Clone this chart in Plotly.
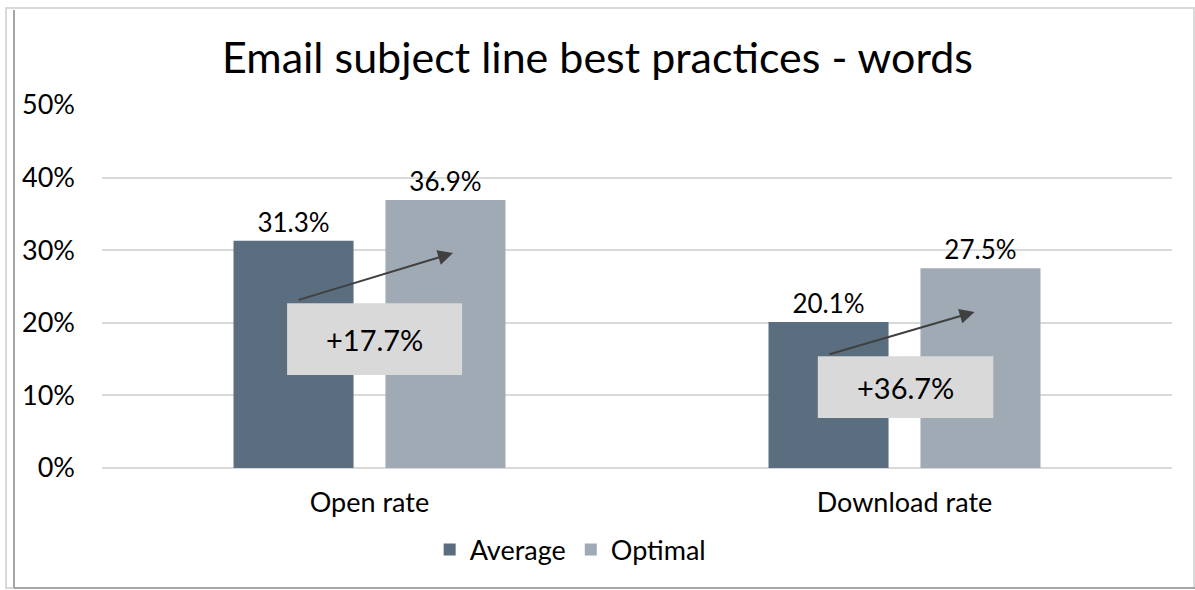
import plotly.graph_objects as go

# ── Data ──────────────────────────────────────────────────────────────
CATEGORIES = ["Open rate", "Download rate"]
AVERAGE = [0.313, 0.201]
OPTIMAL = [0.369, 0.275]
UPLIFT = ["+17.7%", "+36.7%"]

# ── Style ─────────────────────────────────────────────────────────────
AVG_COLOR = "#5a6e80"
OPT_COLOR = "#a0aab4"
BOX_COLOR = "#d9d9d9"
ARROW_COLOR = "#404040"
GRID = "#d9d9d9"
FONT = "Lato, sans-serif"
W, H = 1195, 590
L, R, T, B = 102, 23, 105, 122

fig = go.Figure()
for name, vals, color in [("Average", AVERAGE, AVG_COLOR), ("Optimal", OPTIMAL, OPT_COLOR)]:
    fig.add_trace(go.Bar(
        x=CATEGORIES, y=vals, name=name,
        marker=dict(color=color, line=dict(width=0)),
        text=[f"{v * 100:.1f}%" for v in vals],
        textposition="outside",
        textfont=dict(size=26, color="#000000", family=FONT),
        cliponaxis=False,
    ))

# uplift boxes + arrows (positions relative to category index)
boxes = [(-0.154, 0.173, 0.128, 0.227), (0.838, 1.166, 0.069, 0.154)]
arrows = [((-0.135, 0.231), (0.156, 0.296)), ((0.857, 0.156), (1.131, 0.215))]
for (x0, x1, y0, y1), label in zip(boxes, UPLIFT):
    fig.add_shape(type="rect", xref="x", yref="y", x0=x0, x1=x1, y0=y0, y1=y1,
                  fillcolor=BOX_COLOR, line=dict(width=0))
    fig.add_annotation(x=(x0 + x1) / 2, y=(y0 + y1) / 2, xref="x", yref="y",
                       text=label, showarrow=False,
                       font=dict(size=29, color="#000000", family=FONT))
for (tx, ty), (hx, hy) in arrows:
    fig.add_annotation(x=hx, y=hy, ax=tx, ay=ty, xref="x", yref="y",
                       axref="x", ayref="y", text="", showarrow=True,
                       arrowhead=2, arrowsize=1.5, arrowwidth=2,
                       arrowcolor=ARROW_COLOR)

# chart frame
pw, ph = W - L - R, H - T - B
def px(x):
    return (x - L) / pw
def py(y):
    return (H - B - y) / ph
fig.add_shape(type="rect", xref="paper", yref="paper",
              x0=px(6), x1=px(1194), y0=py(588), y1=py(8),
              line=dict(color="#d9d9d9", width=2), layer="below")
fig.add_shape(type="line", xref="paper", yref="paper",
              x0=px(14), x1=px(14), y0=py(588), y1=py(10),
              line=dict(color="#a6a6a6", width=2))
fig.add_shape(type="line", xref="paper", yref="paper",
              x0=px(14), x1=px(1195), y0=py(588), y1=py(588),
              line=dict(color="#a6a6a6", width=2))

fig.update_layout(
    width=W, height=H,
    paper_bgcolor="white", plot_bgcolor="white",
    font=dict(family=FONT, color="#000000", size=27),
    title=dict(text="Email subject line best practices - words",
               x=0.5, xanchor="center", y=1 - 58 / H, yanchor="middle",
               font=dict(size=43, family=FONT, color="#000000")),
    margin=dict(l=L, r=R, t=T, b=B, autoexpand=False),
    barmode="group", bargap=0.432, bargroupgap=0.21,
    xaxis=dict(showgrid=False, showline=False, ticks="",
               tickfont=dict(size=27), range=[-0.5, 1.5], automargin=False,
               ticklabelstandoff=16),
    yaxis=dict(range=[0, 0.5], dtick=0.1, tickformat=".0%",
               gridcolor=GRID, gridwidth=2, zeroline=True,
               zerolinecolor=GRID, zerolinewidth=2, automargin=False,
               ticks="", ticklen=0, tickfont=dict(size=27),
               ticklabelstandoff=26),
    legend=dict(orientation="h", x=0.438, xanchor="center", y=py(550),
                yanchor="middle", font=dict(size=27),
                itemwidth=30, tracegroupgap=0),
    showlegend=True,
)

fig.write_html("out.html", config={"displayModeBar": False},
               post_script="document.body.style.margin='0';")
